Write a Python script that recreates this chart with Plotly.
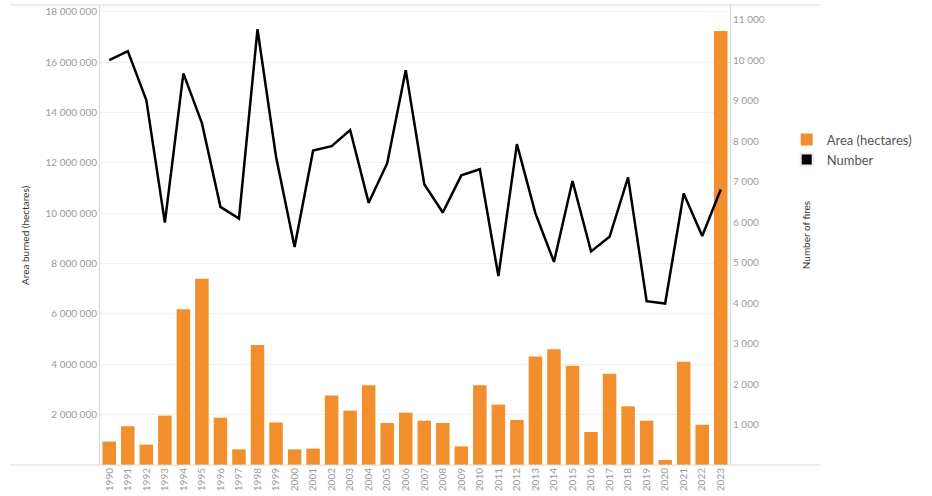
import plotly.graph_objects as go

# Wildfires: area burned (bars, left axis) and number of fires (line, right axis)
years = [str(y) for y in range(1990, 2024)]

area_hectares = [
    930000, 1540000, 810000, 1960000, 6190000, 7400000, 1880000, 620000,
    4770000, 1690000, 620000, 650000, 2760000, 2160000, 3170000, 1670000,
    2080000, 1760000, 1670000, 740000, 3170000, 2400000, 1790000, 4310000,
    4600000, 3940000, 1310000, 3620000, 2330000, 1760000, 200000, 4100000,
    1600000, 17240000,
]

number_of_fires = [
    10010, 10230, 9020, 5990, 9680, 8450, 6380, 6090,
    10770, 7620, 5390, 7770, 7880, 8280, 6480, 7460,
    9760, 6940, 6240, 7160, 7310, 4670, 7930, 6220,
    5020, 7020, 5280, 5640, 7110, 4050, 3990, 6710,
    5660, 6810,
]

left_ticks = [2000000, 4000000, 6000000, 8000000, 10000000,
              12000000, 14000000, 16000000, 18000000]
right_ticks = [1000, 2000, 3000, 4000, 5000, 6000, 7000, 8000, 9000, 10000, 11000]

ORANGE = '#F28E2B'
TICK_GREY = '#9a9a9a'
TITLE_GREY = '#333333'
RULE = '#d9d9d9'

fig = go.Figure()

fig.add_trace(go.Bar(
    x=years, y=area_hectares, name='Area (hectares)',
    marker=dict(color=ORANGE, line=dict(width=0)),
    yaxis='y'
))

fig.add_trace(go.Scatter(
    x=years, y=number_of_fires, name='Number', mode='lines',
    line=dict(color='black', width=2.5),
    yaxis='y2', showlegend=False
))

# legend-only entry so "Number" gets a square swatch like the original
fig.add_trace(go.Bar(
    x=[None], y=[None], name='Number',
    marker=dict(color='black'), yaxis='y'
))

fig.update_layout(
    width=932, height=496,
    margin=dict(l=100, r=202, t=5, b=31),
    paper_bgcolor='white', plot_bgcolor='white',
    font=dict(family='Lato, Open Sans, sans-serif', color=TICK_GREY, size=10),
    separators='. ',
    bargap=0.27,
    barmode='overlay',
    showlegend=True,
    legend=dict(
        x=1.09, y=0.74, xanchor='left', yanchor='top',
        font=dict(size=13, color='#555555'),
        bgcolor='rgba(0,0,0,0)', traceorder='normal',
        itemsizing='constant', tracegroupgap=0
    ),
    xaxis=dict(
        type='category', tickangle=-90, showgrid=False,
        ticks='', tickfont=dict(size=10, color=TICK_GREY),
        automargin=False, showline=False, zeroline=False
    ),
    yaxis=dict(
        range=[0, 18270000], tickvals=left_ticks, tickformat=',d',
        showgrid=True, gridcolor='#efefef', gridwidth=1,
        zeroline=False, showline=True, linecolor=RULE, linewidth=1,
        ticks='', tickfont=dict(size=10, color=TICK_GREY),
        automargin=False
    ),
    yaxis2=dict(
        range=[0, 11370], tickvals=right_ticks, tickformat=',d',
        overlaying='y', side='right', showgrid=False,
        zeroline=False, showline=True, linecolor=RULE, linewidth=1,
        ticks='', tickfont=dict(size=10, color=TICK_GREY),
        automargin=False
    ),
    annotations=[
        dict(text='Area burned (hectares)', xref='paper', yref='paper',
             x=-0.119, y=0.5, xanchor='center', yanchor='middle',
             textangle=-90, showarrow=False,
             font=dict(size=10, color=TITLE_GREY)),
        dict(text='Number of fires', xref='paper', yref='paper',
             x=1.121, y=0.5, xanchor='center', yanchor='middle',
             textangle=-90, showarrow=False,
             font=dict(size=10, color=TITLE_GREY)),
    ],
    shapes=[
        dict(type='line', xref='paper', yref='paper',
             x0=-0.143, x1=1.143, y0=1, y1=1,
             line=dict(color=RULE, width=1)),
        dict(type='line', xref='paper', yref='paper',
             x0=-0.143, x1=1.143, y0=0, y1=0,
             line=dict(color=RULE, width=1)),
    ]
)

# drop the page's default body margin so the figure sits at the window's corner
fig.write_html("out.html", config={'displayModeBar': False},
               post_script="document.body.style.margin='0';")
